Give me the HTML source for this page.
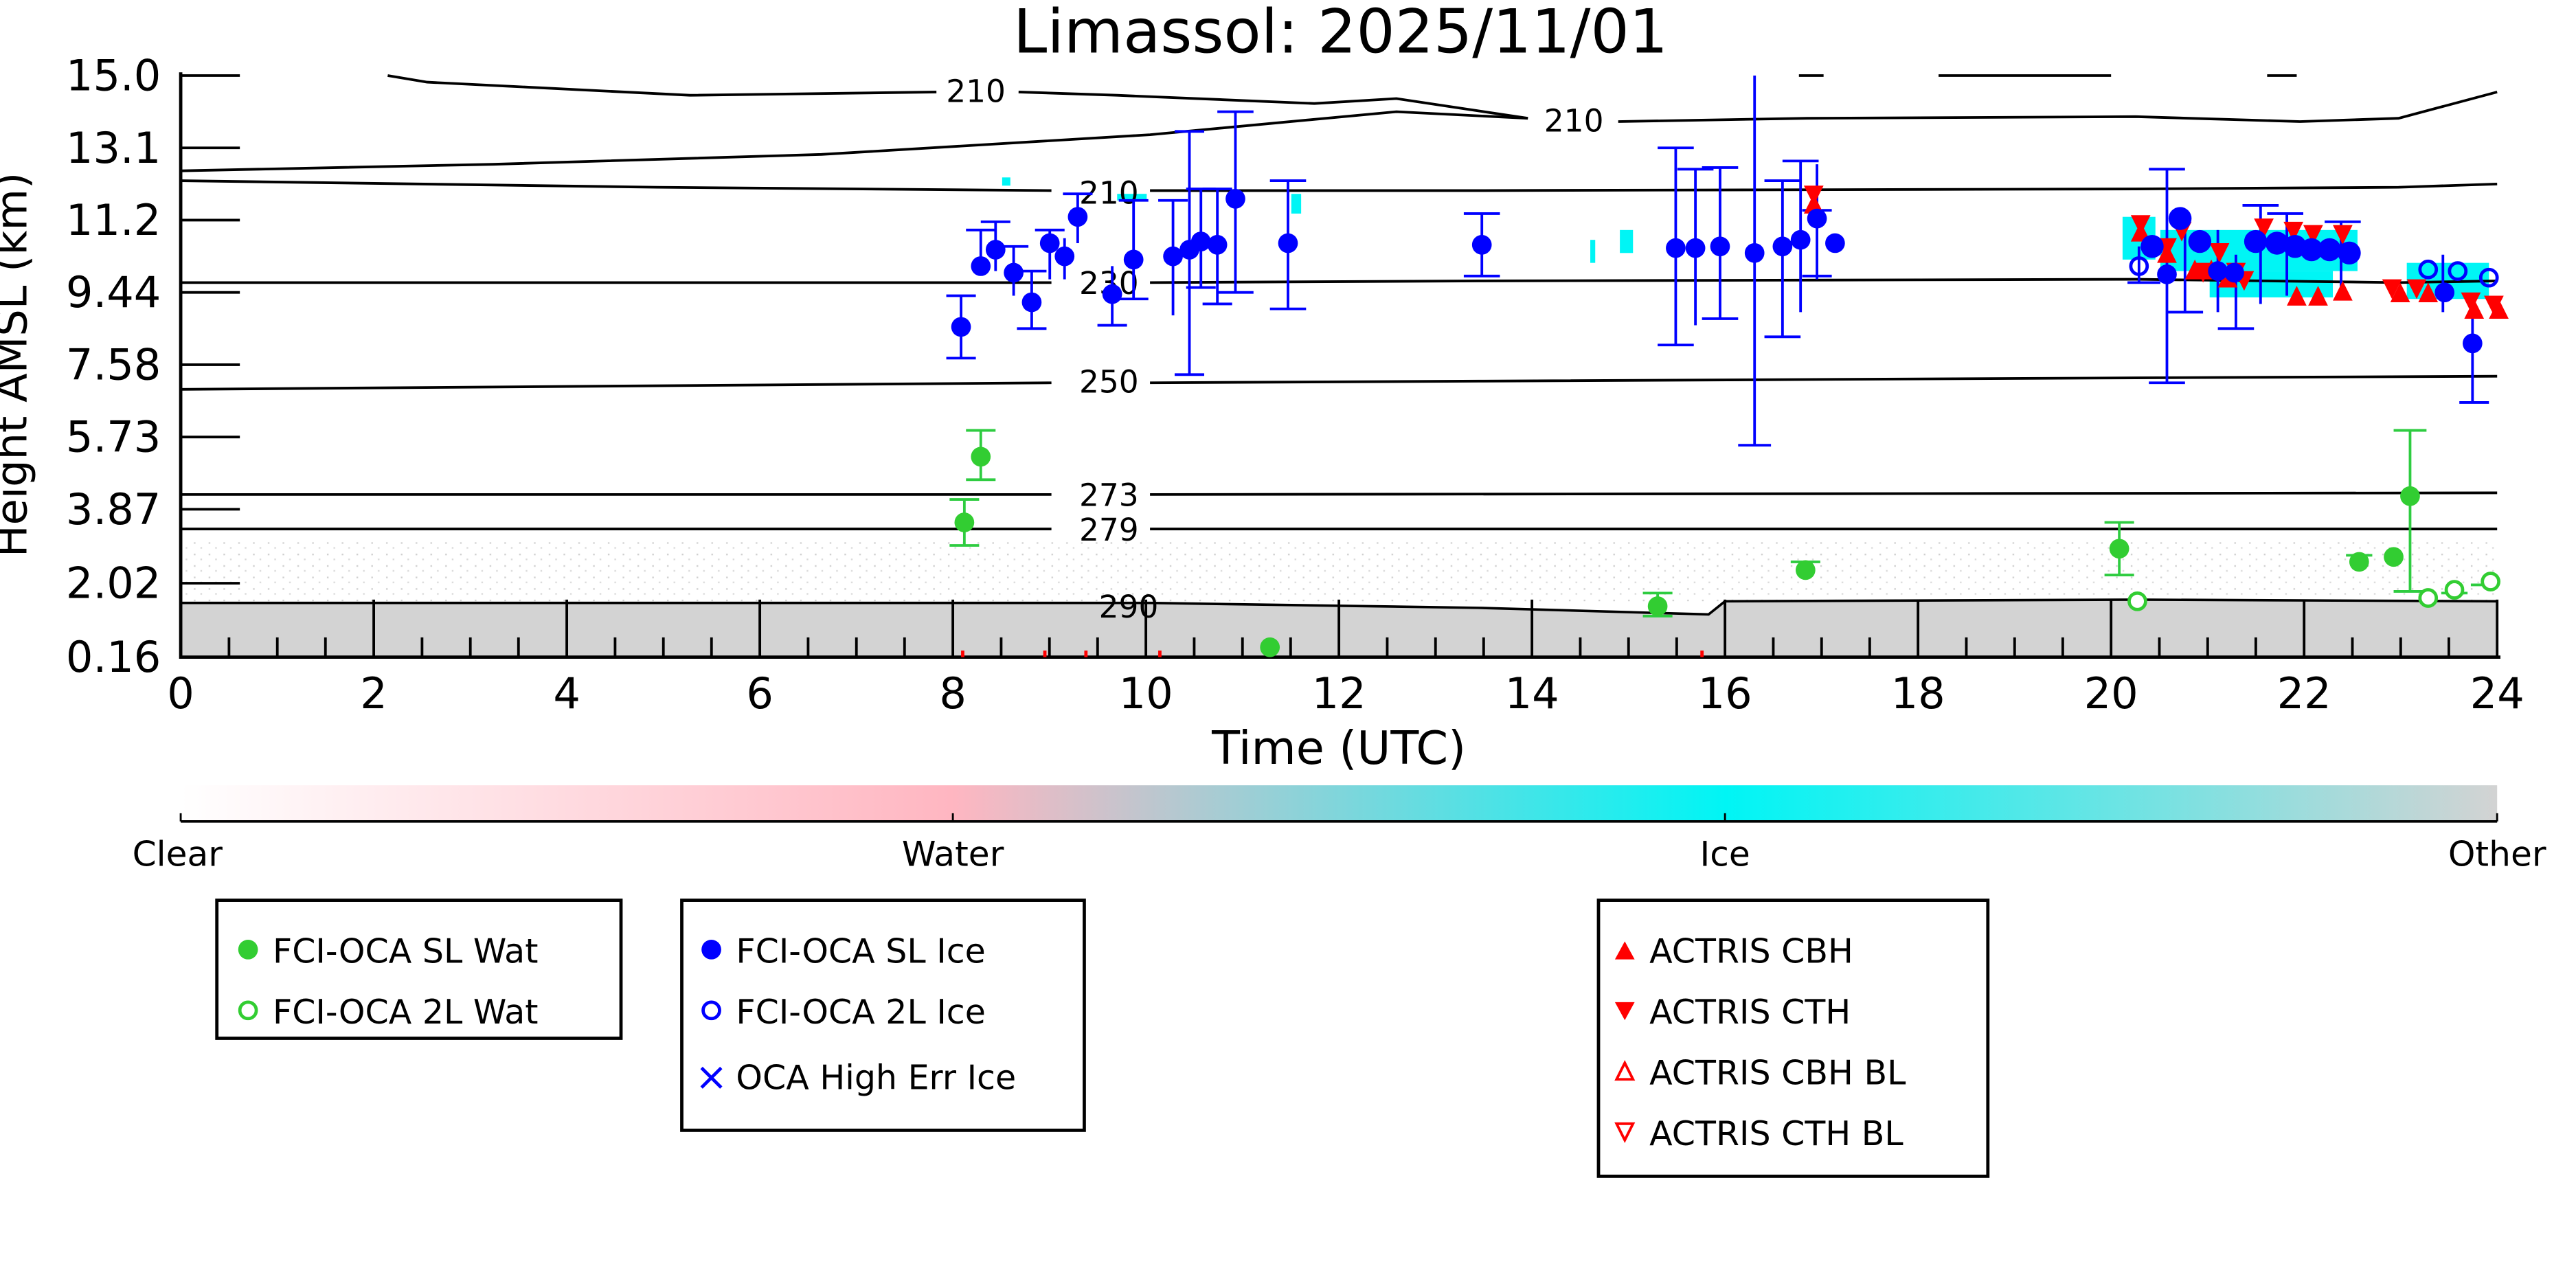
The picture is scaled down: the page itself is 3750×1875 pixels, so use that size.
<!DOCTYPE html>
<html><head><meta charset="utf-8"><style>html,body{margin:0;padding:0;background:#fff}svg{display:block}</style></head>
<body>
<svg width="3750" height="1875" viewBox="0 0 1568 784" xmlns="http://www.w3.org/2000/svg" font-family="DejaVu Sans, Liberation Sans, sans-serif">
<defs>
<linearGradient id="cb" x1="0" x2="1" y1="0" y2="0">
<stop offset="0" stop-color="#ffffff"/><stop offset="0.333" stop-color="#ffb6c1"/><stop offset="0.667" stop-color="#00f5f5"/><stop offset="1" stop-color="#d3d3d3"/>
</linearGradient>
<pattern id="dots" width="9" height="7" patternUnits="userSpaceOnUse"><rect x="1" y="1" width="1" height="1" fill="#d0d0d0"/><rect x="5" y="4" width="1" height="1" fill="#dadada"/></pattern>
</defs>
<rect width="1568" height="784" fill="#fff"/>
<text x="816" y="32" font-size="37" text-anchor="middle">Limassol: 2025/11/01</text>
<rect x="110" y="330" width="1410" height="36" fill="url(#dots)"/>
<path d="M110 367 L700 367 L900 370 L1040 374 L1050 366 L1300 365 L1520 366 L1520 400 L110 400Z" fill="#d3d3d3"/>
<path d="M110 367 L700 367 L900 370 L1040 374 L1050 366 L1300 365 L1520 366" fill="none" stroke="#000" stroke-width="1.5"/>
<g fill="#00f5f5">
<rect x="610" y="108" width="5" height="5"/><rect x="680" y="118" width="18" height="4"/><rect x="786" y="118" width="6" height="12"/><rect x="986" y="140" width="8" height="14"/><rect x="968" y="146" width="3" height="14"/>
<rect x="1292" y="132" width="20" height="26"/><rect x="1315" y="140" width="120" height="25"/><rect x="1345" y="165" width="75" height="16"/><rect x="1465" y="160" width="50" height="22"/>
</g>
<g fill="none" stroke="#000" stroke-width="1.6">
<path d="M236 46 L260 50 L420 58 L570 56"/><path d="M620 56 L680 58 L800 63 L850 60 L930 72"/><path d="M985 74 L1100 72 L1300 71 L1400 74 L1460 72 L1520 56"/>
<path d="M110 104 L300 100 L500 94 L700 82 L850 68 L930 72"/><path d="M110 110 L400 114 L640 116"/><path d="M700 116 L900 116 L1300 115 L1460 114 L1520 112"/>
<path d="M110 172 L640 172"/><path d="M700 172 L900 171 L1300 170 L1460 172 L1520 171"/>
<path d="M110 237 L640 233"/><path d="M700 233 L900 232 L1300 230 L1520 229"/>
<path d="M110 301 L640 301"/><path d="M700 301 L1520 300"/>
<path d="M110 322 L640 322"/><path d="M700 322 L1520 322"/>
<path d="M1095 46 L1110 46 M1180 46 L1285 46 M1380 46 L1398 46"/>
</g>
<g font-size="19" text-anchor="middle">
<text x="594" y="62">210</text><text x="958" y="80">210</text><text x="675" y="124">210</text><text x="675" y="179">230</text><text x="675" y="239">250</text><text x="675" y="308">273</text><text x="675" y="329">279</text><text x="687" y="376">290</text>
</g>
<path d="M110 44 L110 400 L1522 400" stroke="#000" stroke-width="2" fill="none"/>
<g stroke="#000" stroke-width="1.6">
<path d="M110 46h36M110 90h36M110 134h36M110 178h36M110 222h36M110 266h36M110 310h36M110 355h36M110 400h36"/>
<path d="M110 400v-35M227.5 400v-35M345 400v-35M462.5 400v-35M580 400v-35M697.5 400v-35M815 400v-35M932.5 400v-35M1050 400v-35M1167.5 400v-35M1285 400v-35M1402.5 400v-35M1520 400v-35"/>
<path d="M139.4 400v-12M168.8 400v-12M198.1 400v-12M256.9 400v-12M286.3 400v-12M315.6 400v-12M374.4 400v-12M403.8 400v-12M433.1 400v-12M491.9 400v-12M521.3 400v-12M550.6 400v-12M609.4 400v-12M638.8 400v-12M668.1 400v-12M726.9 400v-12M756.3 400v-12M785.6 400v-12M844.4 400v-12M873.8 400v-12M903.1 400v-12M961.9 400v-12M991.3 400v-12M1020.6 400v-12M1079.4 400v-12M1108.8 400v-12M1138.1 400v-12M1196.9 400v-12M1226.3 400v-12M1255.6 400v-12M1314.4 400v-12M1343.8 400v-12M1373.1 400v-12M1431.9 400v-12M1461.3 400v-12M1490.6 400v-12"/>
</g>
<g font-size="26" text-anchor="end">
<text x="98" y="55">15.0</text><text x="98" y="99">13.1</text><text x="98" y="143">11.2</text><text x="98" y="187">9.44</text><text x="98" y="231">7.58</text><text x="98" y="275">5.73</text><text x="98" y="319">3.87</text><text x="98" y="364">2.02</text><text x="98" y="409">0.16</text>
</g>
<text transform="translate(16,222) rotate(-90)" font-size="26" text-anchor="middle">Height AMSL (km)</text>
<g font-size="26" text-anchor="middle">
<text x="110" y="431">0</text><text x="227.5" y="431">2</text><text x="345" y="431">4</text><text x="462.5" y="431">6</text><text x="580" y="431">8</text><text x="697.5" y="431">10</text><text x="815" y="431">12</text><text x="932.5" y="431">14</text><text x="1050" y="431">16</text><text x="1167.5" y="431">18</text><text x="1285" y="431">20</text><text x="1402.5" y="431">22</text><text x="1520" y="431">24</text>
</g>
<text x="815" y="465" font-size="28" text-anchor="middle">Time (UTC)</text>
<g fill="#f00"><rect x="585" y="396" width="2" height="4"/><rect x="635" y="396" width="2" height="4"/><rect x="660" y="396" width="2" height="4"/><rect x="705" y="396" width="2" height="4"/><rect x="1035" y="396" width="2" height="4"/></g>
<g stroke="#0000ff" stroke-width="1.6" fill="none">
<path d="M585 180v38M576 180h18M576 218h18"/><path d="M597 140v25M588 140h18"/><path d="M606 135v30M597 135h18"/><path d="M617 150v30M608 150h18"/><path d="M628 165v35M619 165h18M619 200h18"/><path d="M639 140v30M630 140h18"/><path d="M648 145v25"/><path d="M656 118v30M647 118h18"/><path d="M677 162v36M668 198h18"/><path d="M690 122v60M681 122h18M681 182h18"/><path d="M714 122v70M705 122h18"/><path d="M724 80v148M715 80h18M715 228h18"/><path d="M731 115v60M722 115h18M722 175h18"/><path d="M741 115v70M732 115h18M732 185h18"/><path d="M752 68v110M741 68h22M741 178h22"/><path d="M784 110v78M773 110h22M773 188h22"/>
<path d="M902 130v38M891 130h22M891 168h22"/><path d="M1020 90v120M1009 90h22M1009 210h22"/><path d="M1032 103v95M1021 103h22"/><path d="M1047 102v92M1036 102h22M1036 194h22"/><path d="M1068 46v225M1058 271h20"/><path d="M1085 110v95M1074 110h22M1074 205h22"/><path d="M1096 98v92M1085 98h22"/><path d="M1106 100v70M1097 128h18M1097 168h18"/>
<path d="M1319 103v130M1308 103h22M1308 233h22"/><path d="M1330 140v50M1319 190h22"/><path d="M1350 140v50"/><path d="M1361 155v45M1350 200h22"/><path d="M1376 125v60M1365 125h22"/><path d="M1392 130v50M1380 130h22"/><path d="M1425 135v45M1415 135h22"/><path d="M1302 150v22M1295 172h20"/><path d="M1487 155v35"/><path d="M1505 180v65M1497 245h18"/>
</g>
<g fill="#ff0000">
<path d="M1297 131h12l-6 12z M1313 145h12l-6 12z M1322 135h12l-6 12z M1345 148h12l-6 12z M1360 165h12l-6 12z M1372 133h12l-6 12z M1390 135h12l-6 12z M1402 137h12l-6 12z M1420 137h12l-6 12z M1450 170h12l-6 12z M1465 170h12l-6 12z M1498 178h12l-6 12z M1512 180h12l-6 12z M1098 113h12l-6 12z M1355 160h12l-6 12z M1335 160h12l-6 12z"/>
<path d="M1297 147h12l-6 -12z M1313 160h12l-6 -12z M1340 170h12l-6 -12z M1392 186h12l-6 -12z M1405 186h12l-6 -12z M1420 183h12l-6 -12z M1455 184h12l-6 -12z M1472 184h12l-6 -12z M1500 194h12l-6 -12z M1515 194h12l-6 -12z M1350 175h12l-6 -12z M1330 170h12l-6 -12z M1098 130h12l-6 -12z"/>
</g>
<g fill="#0000ff">
<circle cx="585" cy="199" r="6"/><circle cx="597" cy="162" r="6"/><circle cx="606" cy="152" r="6"/><circle cx="617" cy="166" r="6"/><circle cx="628" cy="184" r="6"/><circle cx="639" cy="148" r="6"/><circle cx="648" cy="156" r="6"/><circle cx="656" cy="132" r="6"/><circle cx="677" cy="179" r="6"/><circle cx="690" cy="158" r="6"/><circle cx="714" cy="156" r="6"/><circle cx="724" cy="152" r="6"/><circle cx="731" cy="147" r="6"/><circle cx="741" cy="149" r="6"/><circle cx="752" cy="121" r="6"/><circle cx="784" cy="148" r="6"/><circle cx="902" cy="149" r="6"/><circle cx="1020" cy="151" r="6"/><circle cx="1032" cy="151" r="6"/><circle cx="1047" cy="150" r="6"/><circle cx="1068" cy="154" r="6"/><circle cx="1085" cy="150" r="6"/><circle cx="1096" cy="146" r="6"/><circle cx="1106" cy="133" r="6"/><circle cx="1117" cy="148" r="6"/>
<circle cx="1310" cy="150" r="7"/><circle cx="1319" cy="167" r="6"/><circle cx="1327" cy="133" r="7"/><circle cx="1339" cy="147" r="7"/><circle cx="1350" cy="165" r="6"/><circle cx="1360" cy="166" r="6"/><circle cx="1373" cy="147" r="7"/><circle cx="1386" cy="148" r="7"/><circle cx="1397" cy="150" r="7"/><circle cx="1407" cy="152" r="7"/><circle cx="1418" cy="152" r="7"/><circle cx="1430" cy="154" r="7"/><circle cx="1488" cy="178" r="6"/><circle cx="1505" cy="209" r="6"/>
</g>
<g fill="none" stroke="#0000ff" stroke-width="2"><circle cx="1302" cy="162" r="5"/><circle cx="1478" cy="164" r="5"/><circle cx="1496" cy="165" r="5"/><circle cx="1515" cy="169" r="5"/></g>
<g stroke="#2ecc40" stroke-width="1.6" fill="none">
<path d="M587 304v28M578 304h18M578 332h18"/><path d="M597 262v30M588 262h18M588 292h18"/><path d="M1009 361v14M1000 361h18M1000 375h18"/><path d="M1099 342v8M1090 342h18"/><path d="M1290 318v32M1281 318h18M1281 350h18"/><path d="M1436 338v8M1428 338h16"/><path d="M1467 262v98M1457 262h20M1457 360h20"/><path d="M1486 361h16M1504 356h14"/>
</g>
<g fill="#32cd32"><circle cx="587" cy="318" r="6"/><circle cx="597" cy="278" r="6"/><circle cx="773" cy="394" r="6"/><circle cx="1009" cy="369" r="6"/><circle cx="1099" cy="347" r="6"/><circle cx="1290" cy="334" r="6"/><circle cx="1436" cy="342" r="6"/><circle cx="1457" cy="339" r="6"/><circle cx="1467" cy="302" r="6"/></g>
<g fill="#fff" stroke="#32cd32" stroke-width="2"><circle cx="1301" cy="366" r="5"/><circle cx="1478" cy="364" r="5"/><circle cx="1494" cy="359" r="5"/><circle cx="1516" cy="354" r="5"/></g>
<rect x="110" y="478" width="1410" height="22" fill="url(#cb)"/>
<path d="M110 500H1520" stroke="#000" stroke-width="1.5"/>
<g stroke="#000" stroke-width="1.2"><path d="M110 500v-5M580 500v-5M1050 500v-5M1520 500v-5"/></g>
<g font-size="21" text-anchor="middle"><text x="108" y="527">Clear</text><text x="580" y="527">Water</text><text x="1050" y="527">Ice</text><text x="1520" y="527">Other</text></g>
<g fill="none" stroke="#000" stroke-width="2"><rect x="132" y="548" width="246" height="84"/><rect x="415" y="548" width="245" height="140"/><rect x="973" y="548" width="237" height="168"/></g>
<g font-size="20.5">
<circle cx="151" cy="578" r="6" fill="#32cd32"/><text x="166" y="586">FCI-OCA SL Wat</text>
<circle cx="151" cy="615" r="5" fill="none" stroke="#32cd32" stroke-width="2"/><text x="166" y="623">FCI-OCA 2L Wat</text>
<circle cx="433" cy="578" r="6" fill="#0000ff"/><text x="448" y="586">FCI-OCA SL Ice</text>
<circle cx="433" cy="615" r="5" fill="none" stroke="#0000ff" stroke-width="2"/><text x="448" y="623">FCI-OCA 2L Ice</text>
<path d="M427 650l12 12M439 650l-12 12" stroke="#0000ff" stroke-width="2"/><text x="448" y="663">OCA High Err Ice</text>
<path d="M983 584h12l-6-11z" fill="#f00"/><text x="1004" y="586">ACTRIS CBH</text>
<path d="M983 610h12l-6 11z" fill="#f00"/><text x="1004" y="623">ACTRIS CTH</text>
<path d="M984 657h10l-5-10z" fill="none" stroke="#f00" stroke-width="1.6"/><text x="1004" y="660">ACTRIS CBH BL</text>
<path d="M984 684h10l-5 10z" fill="none" stroke="#f00" stroke-width="1.6"/><text x="1004" y="697">ACTRIS CTH BL</text>
</g>
</svg>
</body></html>
